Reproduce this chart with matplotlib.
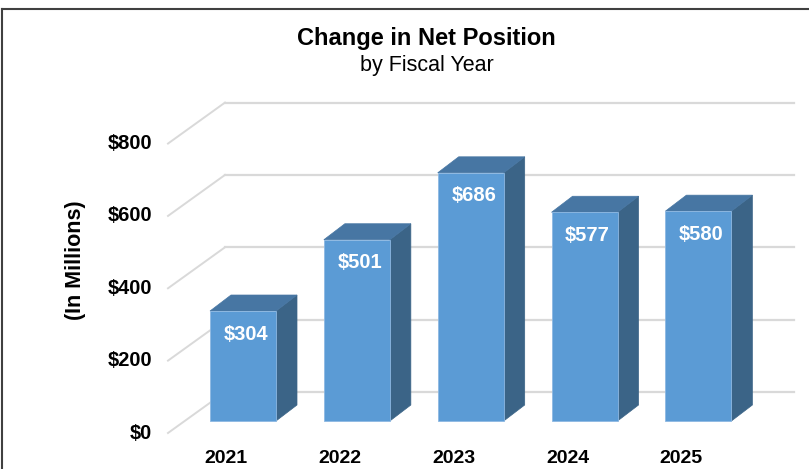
import matplotlib.pyplot as plt
from matplotlib.patches import Polygon, Rectangle
from matplotlib.lines import Line2D

plt.rcParams['font.family'] = ['Liberation Sans', 'DejaVu Sans']

years = ['2021', '2022', '2023', '2024', '2025']
values = [304, 501, 686, 577, 580]
labels = ['$304', '$501', '$686', '$577', '$580']
ticks = [0, 200, 400, 600, 800]
tick_labels = ['$0', '$200', '$400', '$600', '$800']

W, H = 809, 469
# bar front plane: value v sits at pixel y = BASE - SCALE*v, bar i at pixel x = X0 + STEP*i
BASE, SCALE = 421.0, 0.3618
X0, STEP = 243.0, 113.85

def dx(px):
    return px / STEP

def dy(px):
    # pixels upward -> value units
    return px / SCALE

front = '#5B9BD5'
side = '#3B6487'
top = '#4776A3'
grid_c = '#D9D9D9'

fig = plt.figure(figsize=(W / 100, H / 100), dpi=100)
ax = fig.add_axes([0, 0, 1, 1])
ax.set_xlim(-X0 / STEP, (W - X0) / STEP)
ax.set_ylim(-(H - BASE) / SCALE, BASE / SCALE)
ax.axis('off')

# walls: side wall front edge and back wall
side_x = dx(168 - X0)
back_x0 = dx(225 - X0)
back_x1 = dx(794 - X0)
for t, lab in zip(ticks, tick_labels):
    y_front = t - dy(12)
    y_back = t + dy(29)
    ax.plot([side_x, back_x0], [y_front, y_back], color=grid_c, lw=1.4, zorder=1)
    ax.plot([back_x0, back_x1], [y_back, y_back], color=grid_c, lw=1.6, zorder=1)
    ax.text(dx(152 - X0), y_front, lab, ha='right', va='center',
            fontsize=14.5, fontweight='bold', color='black')

# bars
w = dx(66)
ddx, ddy = dx(21), dy(16)
for i, v in enumerate(values):
    l, r = i - w / 2, i + w / 2
    ax.add_patch(Polygon([(r, 0), (r + ddx, ddy), (r + ddx, v + ddy), (r, v)],
                         closed=True, facecolor=side, edgecolor=side, lw=0.5, zorder=3))
    ax.add_patch(Polygon([(l, v), (r, v), (r + ddx, v + ddy), (l + ddx, v + ddy)],
                         closed=True, facecolor=top, edgecolor=top, lw=0.5, zorder=3))
    ax.add_patch(Rectangle((l, 0), w, v, facecolor=front, edgecolor='#8DB8E2',
                           lw=0.6, zorder=4))
    ax.text(i + dx(3), v - dy(23), labels[i], ha='center', va='center',
            fontsize=14.5, fontweight='bold', color='white', zorder=5)
    ax.text(i - dx(17), -dy(37), years[i], ha='center', va='center',
            fontsize=14, fontweight='bold', color='black')

ax.text(dx(75 - X0), dy(BASE - 260), '(In Millions)', rotation=90,
        ha='center', va='center', fontsize=15.5, fontweight='bold')

fig.text(426.5 / W, 1 - 38 / H, 'Change in Net Position', ha='center', va='center',
         fontsize=17, fontweight='bold')
fig.text(426.5 / W, 1 - 66 / H, 'by Fiscal Year', ha='center', va='center', fontsize=15.5)

# chart border (top and left edges visible)
fig.add_artist(Line2D([1.5 / W, 1], [1 - 9 / H, 1 - 9 / H], transform=fig.transFigure,
                      color='#404040', lw=1.5))
fig.add_artist(Line2D([1.5 / W, 1.5 / W], [0, 1 - 9 / H], transform=fig.transFigure,
                      color='#404040', lw=1.5))

fig.savefig('out.png', dpi=100)
